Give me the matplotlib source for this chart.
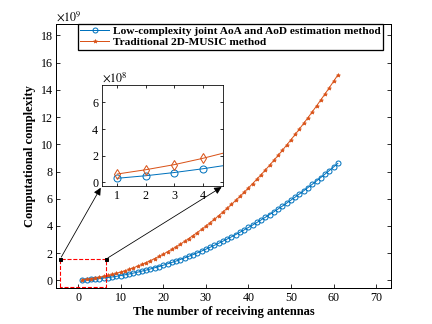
import matplotlib
matplotlib.use('Agg')
import matplotlib.pyplot as plt

plt.rcParams['font.family'] = ['Liberation Serif', 'DejaVu Serif']
plt.rcParams['mathtext.fontset'] = 'stix'

# number of receiving antennas
antennas = list(range(1, 62))

# computational complexity, in units of 1e9
low_complexity = [
    0.031, 0.050, 0.074, 0.102, 0.134, 0.170, 0.211, 0.255, 0.304, 0.357,
    0.414, 0.475, 0.541, 0.610, 0.684, 0.762, 0.844, 0.930, 1.021, 1.116,
    1.215, 1.318, 1.425, 1.536, 1.652, 1.772, 1.896, 2.024, 2.156, 2.293,
    2.434, 2.578, 2.727, 2.881, 3.038, 3.199, 3.365, 3.535, 3.709, 3.888,
    4.070, 4.257, 4.448, 4.643, 4.842, 5.046, 5.253, 5.465, 5.681, 5.901,
    6.125, 6.354, 6.586, 6.823, 7.064, 7.309, 7.559, 7.812, 8.070, 8.332,
    8.598,
]
music_2d = [
    0.063, 0.095, 0.133, 0.180, 0.234, 0.295, 0.364, 0.440, 0.523, 0.614,
    0.712, 0.818, 0.931, 1.052, 1.180, 1.315, 1.458, 1.608, 1.766, 1.931,
    2.103, 2.283, 2.471, 2.666, 2.868, 3.077, 3.294, 3.519, 3.751, 3.990,
    4.237, 4.491, 4.752, 5.021, 5.298, 5.582, 5.873, 6.171, 6.477, 6.791,
    7.112, 7.440, 7.776, 8.119, 8.470, 8.828, 9.193, 9.566, 9.946, 10.334,
    10.729, 11.131, 11.541, 11.959, 12.384, 12.816, 13.256, 13.701, 14.155, 14.619,
    15.090,
]

labels = ['Low-complexity joint AoA and AoD estimation method',
          'Traditional 2D-MUSIC method']
blue = '#0072BD'
orange = '#D95319'

fig = plt.figure(figsize=(6, 4.5), dpi=72)
ax = fig.add_axes([0.1296, 0.111, 0.7755, 0.815])

ax.plot(antennas, low_complexity, color=blue, marker='o', markersize=5,
        markerfacecolor='none', markeredgewidth=1, linewidth=1, label=labels[0])
ax.plot(antennas, music_2d, color=orange, marker='*', markersize=4,
        markeredgewidth=0.7, linewidth=1, label=labels[1])

ax.set_xlim(-5.2, 73.5)
ax.set_ylim(-0.56, 18.84)
ax.set_xticks(range(0, 71, 10))
ax.set_yticks(range(0, 19, 2))
ax.tick_params(direction='in', top=True, right=True, labelsize=12, length=4)
for s in ax.spines.values():
    s.set_linewidth(1)
ax.set_xlabel('The number of receiving antennas', fontsize=12.5, fontweight='bold',
              labelpad=2)
ax.set_ylabel('Computational complexity', fontsize=12.5, fontweight='bold',
              labelpad=4)
ax.text(0, 1.003, r'$\times10^{9}$', transform=ax.transAxes, fontsize=12,
        ha='left', va='bottom')

leg = ax.legend(loc='upper center', bbox_to_anchor=(0.52, 1.0),
                prop={'weight': 'bold', 'size': 11.4}, fancybox=False,
                edgecolor='black', framealpha=1, borderpad=0.2,
                handlelength=2.6, handletextpad=0.3, labelspacing=0.1,
                borderaxespad=0)
leg.get_frame().set_linewidth(1.3)

# zoom rectangle
x0, x1, ytop, ybot = -4.2, 6.6, 1.58, -0.5
ax.plot([x0, x0, x1, x1, x0], [ybot, ytop, ytop, ybot, ybot], color='red',
        linestyle='--', linewidth=1.1, clip_on=False)
ax.plot([x0, x1], [ytop, ytop], linestyle='none', marker='s', markersize=3,
        color='black')

# inset
axin = fig.add_axes([0.2354, 0.4259, 0.2815, 0.3117])
axin.plot(antennas, [v * 10 for v in low_complexity], color=blue, marker='o',
          markersize=7, markerfacecolor='none', markeredgewidth=1, linewidth=1)
axin.plot(antennas, [v * 10 for v in music_2d], color=orange, marker='d',
          markersize=7, markerfacecolor='none', markeredgewidth=1, linewidth=1)
axin.set_xlim(0.45, 4.73)
axin.set_ylim(-0.27, 7.3)
axin.set_xticks([1, 2, 3, 4])
axin.set_yticks([0, 2, 4, 6])
axin.tick_params(direction='in', top=True, right=True, labelsize=12, length=3)
axin.text(0, 1.005, r'$\times10^{8}$', transform=axin.transAxes, fontsize=12,
          ha='left', va='bottom')

arrow = dict(arrowstyle='-|>', color='black', linewidth=0.8, mutation_scale=15)
ax.annotate('', xy=(0, 0), xycoords=axin.transAxes, xytext=(x0, ytop),
            textcoords='data', arrowprops=arrow)
ax.annotate('', xy=(1, 0), xycoords=axin.transAxes, xytext=(x1, ytop),
            textcoords='data', arrowprops=arrow)

fig.savefig('out.png', dpi=72)
